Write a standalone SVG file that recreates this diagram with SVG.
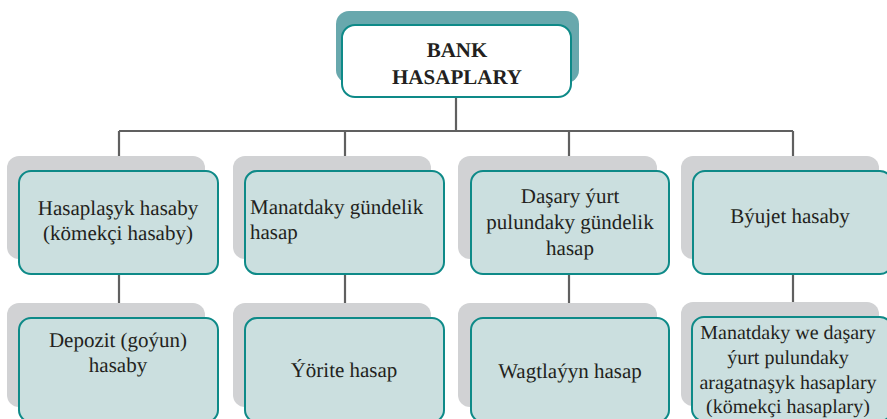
<svg xmlns="http://www.w3.org/2000/svg" width="887" height="419" viewBox="0 0 887 419">
<style>
.bg{fill:#d1d2d4}
.fr{fill:#cbdfdf;stroke:#0e8a88;stroke-width:2}
.c{stroke:#606060;stroke-width:2.2;fill:none}
</style>
<g id="connectors">
<path class="c" d="M456 97V131M119 131H793M119 131V171M345 131V171M569 131V171M793 131V171M119 274V318M345 274V318M569 274V318M793 273V317"/>
</g>
<g font-family="Liberation Serif, serif" font-size="21" fill="#231f20" text-anchor="middle" text-rendering="geometricPrecision">
<g id="root">
<rect x="336" y="11" width="243" height="72" rx="13" fill="#68a8ad"/>
<rect x="342" y="25" width="229" height="72" rx="13" fill="#fff" stroke="#0e8a88" stroke-width="2"/>
<text x="457" y="57" font-weight="bold">BANK</text>
<text x="457" y="84" font-weight="bold">HASAPLARY</text>
</g>
<g id="n1">
<rect class="bg" x="7" y="156" width="198" height="103" rx="12"/>
<rect class="fr" x="19" y="171" width="199" height="103" rx="12"/>
<text x="118" y="215">Hasaplaşyk hasaby</text>
<text x="118" y="240">(kömekçi hasaby)</text>
</g>
<g id="n2">
<rect class="bg" x="233" y="156" width="198" height="103" rx="12"/>
<rect class="fr" x="245" y="171" width="199" height="103" rx="12"/>
<text x="250" y="214" text-anchor="start">Manatdaky gündelik</text>
<text x="250" y="239" text-anchor="start">hasap</text>
</g>
<g id="n3">
<rect class="bg" x="458" y="156" width="199" height="103" rx="12"/>
<rect class="fr" x="471" y="171" width="198" height="103" rx="12"/>
<text x="570" y="203">Daşary ýurt</text>
<text x="570" y="229">pulundaky gündelik</text>
<text x="570" y="255">hasap</text>
</g>
<g id="n4">
<rect class="bg" x="681" y="156" width="198" height="103" rx="12"/>
<rect class="fr" x="693" y="171" width="199" height="103" rx="12"/>
<text x="790" y="223">Býujet hasaby</text>
</g>
<g id="n5">
<rect class="bg" x="7" y="303" width="198" height="104" rx="12"/>
<rect class="fr" x="19" y="318" width="199" height="104" rx="12"/>
<text x="118" y="347">Depozit (goýun)</text>
<text x="118" y="372">hasaby</text>
</g>
<g id="n6">
<rect class="bg" x="233" y="303" width="198" height="104" rx="12"/>
<rect class="fr" x="245" y="318" width="199" height="104" rx="12"/>
<text x="344" y="377">Ýörite hasap</text>
</g>
<g id="n7">
<rect class="bg" x="458" y="303" width="199" height="104" rx="12"/>
<rect class="fr" x="471" y="318" width="198" height="104" rx="12"/>
<text x="570" y="378">Wagtlaýyn hasap</text>
</g>
<g id="n8">
<rect class="bg" x="681" y="302" width="198" height="104" rx="12"/>
<rect class="fr" x="692" y="317" width="200" height="104" rx="12"/>
<text x="788" y="339" font-size="20">Manatdaky we daşary</text>
<text x="788" y="364" font-size="20">ýurt pulundaky</text>
<text x="788" y="389" font-size="20">aragatnaşyk hasaplary</text>
<text x="788" y="413" font-size="20">(kömekçi hasaplary)</text>
</g>
</g>
</svg>
